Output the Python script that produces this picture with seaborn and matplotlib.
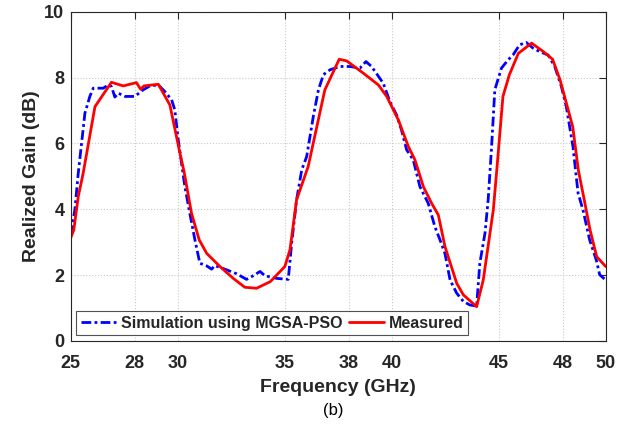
import matplotlib
matplotlib.use("Agg")
import matplotlib.pyplot as plt
import seaborn as sns
import pandas as pd

sim_freq = [25.0, 25.2, 25.36, 25.67, 25.9, 26.06, 26.53, 26.76, 26.91, 27.07, 27.23, 27.54, 28.0,
            28.39, 28.71, 29.1, 29.4, 29.72, 29.87, 30.03, 30.34, 30.57, 30.81, 31.04, 31.36, 31.59,
            31.74, 32.29, 32.76, 33.22, 33.53, 33.85, 34.08, 34.63, 35.17, 35.33, 35.56, 35.8, 36.03,
            36.34, 36.58, 36.81, 37.12, 37.59, 38.05, 38.52, 38.8, 39.06, 39.61, 39.92, 40.23, 40.46,
            40.7, 41.01, 41.32, 41.71, 42.02, 42.26, 42.49, 42.73, 43.04, 43.35, 43.66, 43.97, 44.12,
            44.36, 44.51, 44.67, 44.82, 45.13, 45.44, 45.67, 45.98, 46.29, 46.6, 46.92, 47.31, 47.62,
            47.93, 48.16, 48.47, 48.71, 48.94, 49.25, 49.56, 49.72, 50.0]
sim_gain = [3.22, 3.98, 5.1, 6.92, 7.43, 7.68, 7.68, 7.78, 7.73, 7.41, 7.53, 7.43, 7.43,
            7.63, 7.75, 7.78, 7.58, 7.33, 7.02, 6.11, 4.69, 3.88, 3.07, 2.36, 2.28, 2.18,
            2.29, 2.16, 2.04, 1.87, 1.98, 2.11, 1.98, 1.9, 1.87, 2.97, 4.29, 5.2, 5.6,
            6.82, 7.63, 8.09, 8.24, 8.34, 8.34, 8.29, 8.49, 8.34, 7.83, 7.27, 6.87, 6.41,
            5.81, 5.5, 4.69, 4.18, 3.47, 3.07, 2.66, 1.85, 1.45, 1.2, 1.09, 1.06, 2.36,
            3.27, 4.29, 5.91, 7.63, 8.29, 8.54, 8.69, 9.0, 9.07, 8.9, 8.79, 8.69, 8.34,
            7.73, 7.12, 5.91, 4.49, 3.98, 3.07, 2.46, 2.01, 1.85]

meas_freq = [25.0, 25.15, 25.36, 25.59, 26.14, 26.91, 27.46, 28.08, 28.27, 28.43, 29.1, 29.64,
             30.08, 30.3, 30.65, 31.01, 31.36, 31.98, 32.6, 33.14, 33.69, 34.33, 35.01, 35.25,
             35.56, 36.1, 36.88, 37.55, 37.9, 38.67, 39.38, 39.77, 40.31, 40.78, 41.09, 41.48,
             41.87, 42.18, 42.49, 43.04, 43.35, 43.97, 44.28, 44.75, 44.9, 45.2, 45.5, 45.92,
             46.54, 47.09, 47.52, 47.87, 48.46, 48.72, 49.03, 49.27, 49.58, 50.0]
meas_gain = [3.12, 3.37, 4.39, 5.1, 7.12, 7.86, 7.75, 7.85, 7.65, 7.75, 7.8, 7.17,
             5.8, 5.15, 3.88, 3.07, 2.66, 2.26, 1.9, 1.63, 1.6, 1.8, 2.26, 2.77,
             4.29, 5.3, 7.63, 8.56, 8.51, 8.14, 7.78, 7.43, 6.72, 5.91, 5.5, 4.69,
             4.18, 3.83, 2.87, 1.75, 1.4, 1.04, 1.85, 3.98, 5.1, 7.43, 8.09, 8.74,
             9.05, 8.79, 8.56, 7.93, 6.51, 5.2, 4.18, 3.37, 2.56, 2.26]

x_ticks = [25, 28, 30, 35, 38, 40, 45, 48, 50]
y_ticks = [0, 2, 4, 6, 8, 10]

sns.set_style("white")
plt.rcParams['font.family'] = ['Liberation Sans', 'DejaVu Sans']

df_sim = pd.DataFrame({"f": sim_freq, "g": sim_gain})
df_meas = pd.DataFrame({"f": meas_freq, "g": meas_gain})

fig = plt.figure(figsize=(6.19, 4.24), dpi=100)
ax = fig.add_axes([0.114, 0.196, 0.8645, 0.776])

sns.lineplot(data=df_sim, x="f", y="g", ax=ax, color="#0000ff", lw=2.0,
             linestyle=(0, (3.5, 1.2, 1, 1.2)), label="Simulation using MGSA-PSO",
             sort=False, estimator=None)
sns.lineplot(data=df_meas, x="f", y="g", ax=ax, color="#ff0000", lw=2.0,
             label="Measured", sort=False, estimator=None)

ax.set_xlim(25, 50)
ax.set_ylim(0, 10)
ax.set_xticks(x_ticks)
ax.set_yticks(y_ticks)
ax.set_xticklabels([str(t) for t in x_ticks], fontsize=13, fontweight="bold", color="#262626")
ax.set_yticklabels([str(t) for t in y_ticks], fontsize=13, fontweight="bold", color="#262626")
ax.tick_params(direction="in", length=5, width=0.8, color="#262626", top=True, right=True)
ax.tick_params(axis="x", pad=10)
ax.tick_params(axis="y", pad=4.5)
ax.grid(True, linestyle=":", color="#c8c8c8", linewidth=0.8)
for s in ax.spines.values():
    s.set_visible(True)
    s.set_color("#262626")
    s.set_linewidth(0.8)

ax.set_xlabel("Frequency (GHz)", fontsize=14, fontweight="bold", color="#262626", labelpad=5)
ax.set_ylabel("Realized Gain (dB)", fontsize=14, fontweight="bold", color="#262626", labelpad=3)

leg = ax.legend(loc="lower left", ncol=2, prop={"weight": "bold", "size": 11.5},
                frameon=True, fancybox=False, edgecolor="#262626", handlelength=2.2,
                columnspacing=0.4, handletextpad=0.3, borderaxespad=0.35, borderpad=0.3)
leg.get_frame().set_linewidth(0.8)

fig.text(0.538, 0.033, "(b)", fontsize=12, ha="center", va="center", color="#000000")

fig.savefig("out.png", dpi=100)
